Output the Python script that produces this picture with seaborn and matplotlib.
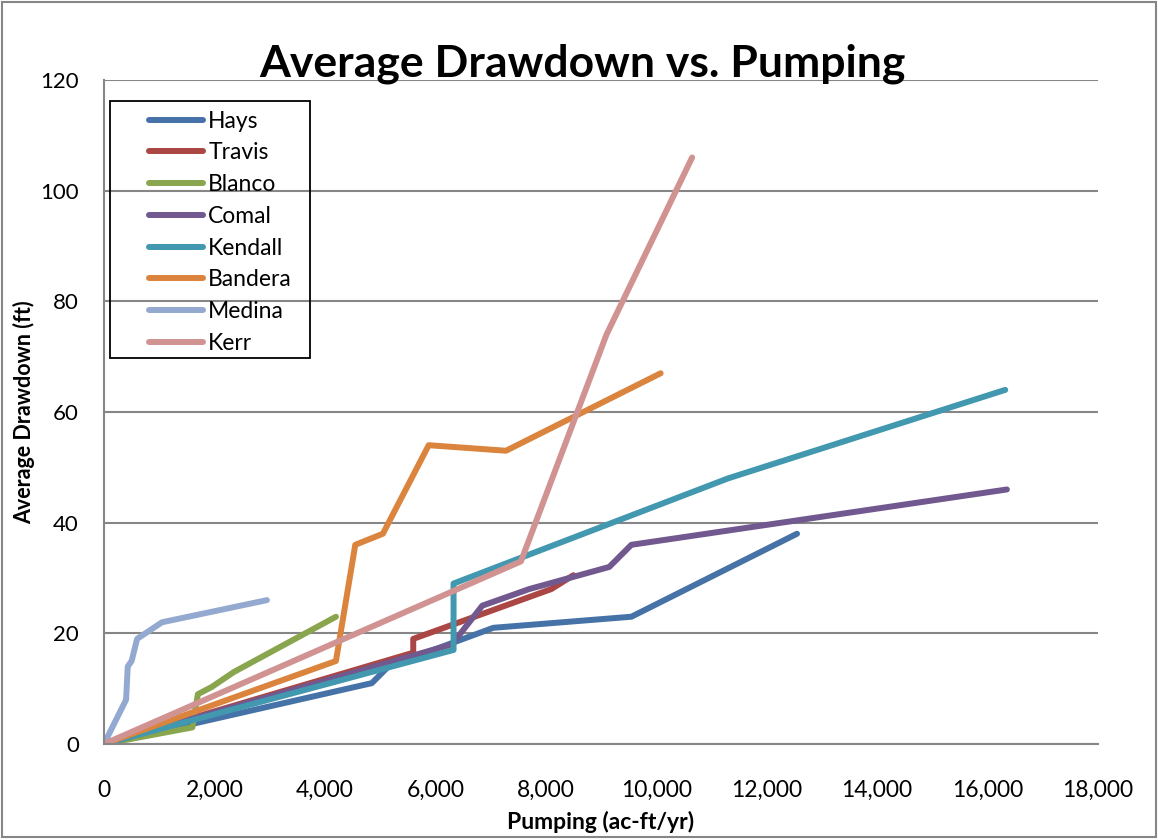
import matplotlib
matplotlib.use("Agg")
import matplotlib.pyplot as plt
import seaborn as sns
import pandas as pd
from matplotlib.lines import Line2D
from matplotlib.patches import Rectangle
from matplotlib.ticker import FuncFormatter, MultipleLocator

# ---- data ----
series_names = ["Hays", "Travis", "Blanco", "Comal", "Kendall", "Bandera", "Medina", "Kerr"]
hays_x = [0, 4850, 5150, 7050, 9550, 12550]
hays_y = [0, 11, 14, 21, 23, 38]
travis_x = [0, 5600, 5600, 8100, 8500]
travis_y = [0, 16.5, 19, 28, 30.5]
blanco_x = [0, 1600, 1700, 1950, 2350, 4200]
blanco_y = [0, 3, 9, 10.3, 13, 23]
comal_x = [0, 6300, 6850, 7700, 9150, 9550, 16350]
comal_y = [0, 18, 25, 28, 32, 36, 46]
kendall_x = [0, 6330, 6330, 11300, 16320]
kendall_y = [0, 17, 29, 48, 64]
bandera_x = [0, 4200, 4550, 5050, 5880, 7280, 10080]
bandera_y = [0, 15, 36, 38, 54, 53, 67]
medina_x = [0, 400, 430, 500, 600, 1050, 2950]
medina_y = [0, 8, 14, 15, 19, 22, 26]
kerr_x = [0, 7550, 9100, 10650]
kerr_y = [0, 33, 74, 106]

colors = ["#4572A7", "#AA4643", "#89A54E", "#71588F", "#4198AF", "#DB843D", "#93A9CF", "#D19392"]

xs = [hays_x, travis_x, blanco_x, comal_x, kendall_x, bandera_x, medina_x, kerr_x]
ys = [hays_y, travis_y, blanco_y, comal_y, kendall_y, bandera_y, medina_y, kerr_y]

frames = []
for name, x, y in zip(series_names, xs, ys):
    frames.append(pd.DataFrame({"County": name, "Pumping": x, "Drawdown": y}))
df = pd.concat(frames, ignore_index=True)

sns.set_style("white")
plt.rcParams["font.family"] = ["Lato", "DejaVu Sans"]
plt.rcParams["text.color"] = "black"
plt.rcParams["axes.labelcolor"] = "black"
plt.rcParams["xtick.color"] = "black"
plt.rcParams["ytick.color"] = "black"

fig = plt.figure(figsize=(11.58, 8.40), dpi=100)
ax = fig.add_axes([104/1158, 1-744/840, 994/1158, 664/840])

for name, c in zip(series_names, colors):
    sub = df[df["County"] == name]
    sns.lineplot(data=sub, x="Pumping", y="Drawdown", sort=False, estimator=None,
                 color=c, linewidth=4.3, ax=ax, solid_capstyle="round",
                 solid_joinstyle="round", legend=False)

ax.set_xlim(0, 18000)
ax.set_ylim(0, 120)
ax.xaxis.set_major_locator(MultipleLocator(2000))
ax.yaxis.set_major_locator(MultipleLocator(20))
ax.xaxis.set_major_formatter(FuncFormatter(lambda v, p: f"{int(v):,}"))
ax.grid(axis="y", color="#868686", linewidth=1.5)
ax.grid(axis="x", visible=False)
ax.set_axisbelow(True)
for s in ["top", "right"]:
    ax.spines[s].set_visible(False)
for s in ["left", "bottom"]:
    ax.spines[s].set_color("#868686")
    ax.spines[s].set_linewidth(1.5)
ax.tick_params(axis="x", length=0, labelsize=16.5, pad=26)
ax.tick_params(axis="y", length=0, labelsize=16, pad=18)

ax.set_xlabel("Pumping (ac-ft/yr)", fontsize=16.5, fontweight="bold", labelpad=7)
ax.set_ylabel("Average Drawdown (ft)", fontsize=15.5, fontweight="bold", labelpad=4)
fig.text(582/1158, 1-76/840, "Average Drawdown vs. Pumping", fontsize=32, fontweight="bold",
         ha="center", va="baseline")

handles = [Line2D([0], [0], color=c, linewidth=4.3, solid_capstyle="round") for c in colors]
leg = ax.legend(handles, series_names, loc="upper left", bbox_to_anchor=(0.0453, 0.954),
                fontsize=16.5, frameon=False, handlelength=2.36,
                handletextpad=0.22, labelspacing=0.47, borderpad=0, borderaxespad=0)
ax.add_patch(Rectangle((6/994, 386/664), 200/994, 257/664, transform=ax.transAxes,
                       fill=False, edgecolor="black", linewidth=1.3, zorder=5))

fig.patches.append(Rectangle((0.002, 0.004), 0.996, 0.994, transform=fig.transFigure,
                             fill=False, edgecolor="#868686", linewidth=1.5))

fig.savefig("out.png", dpi=100)
